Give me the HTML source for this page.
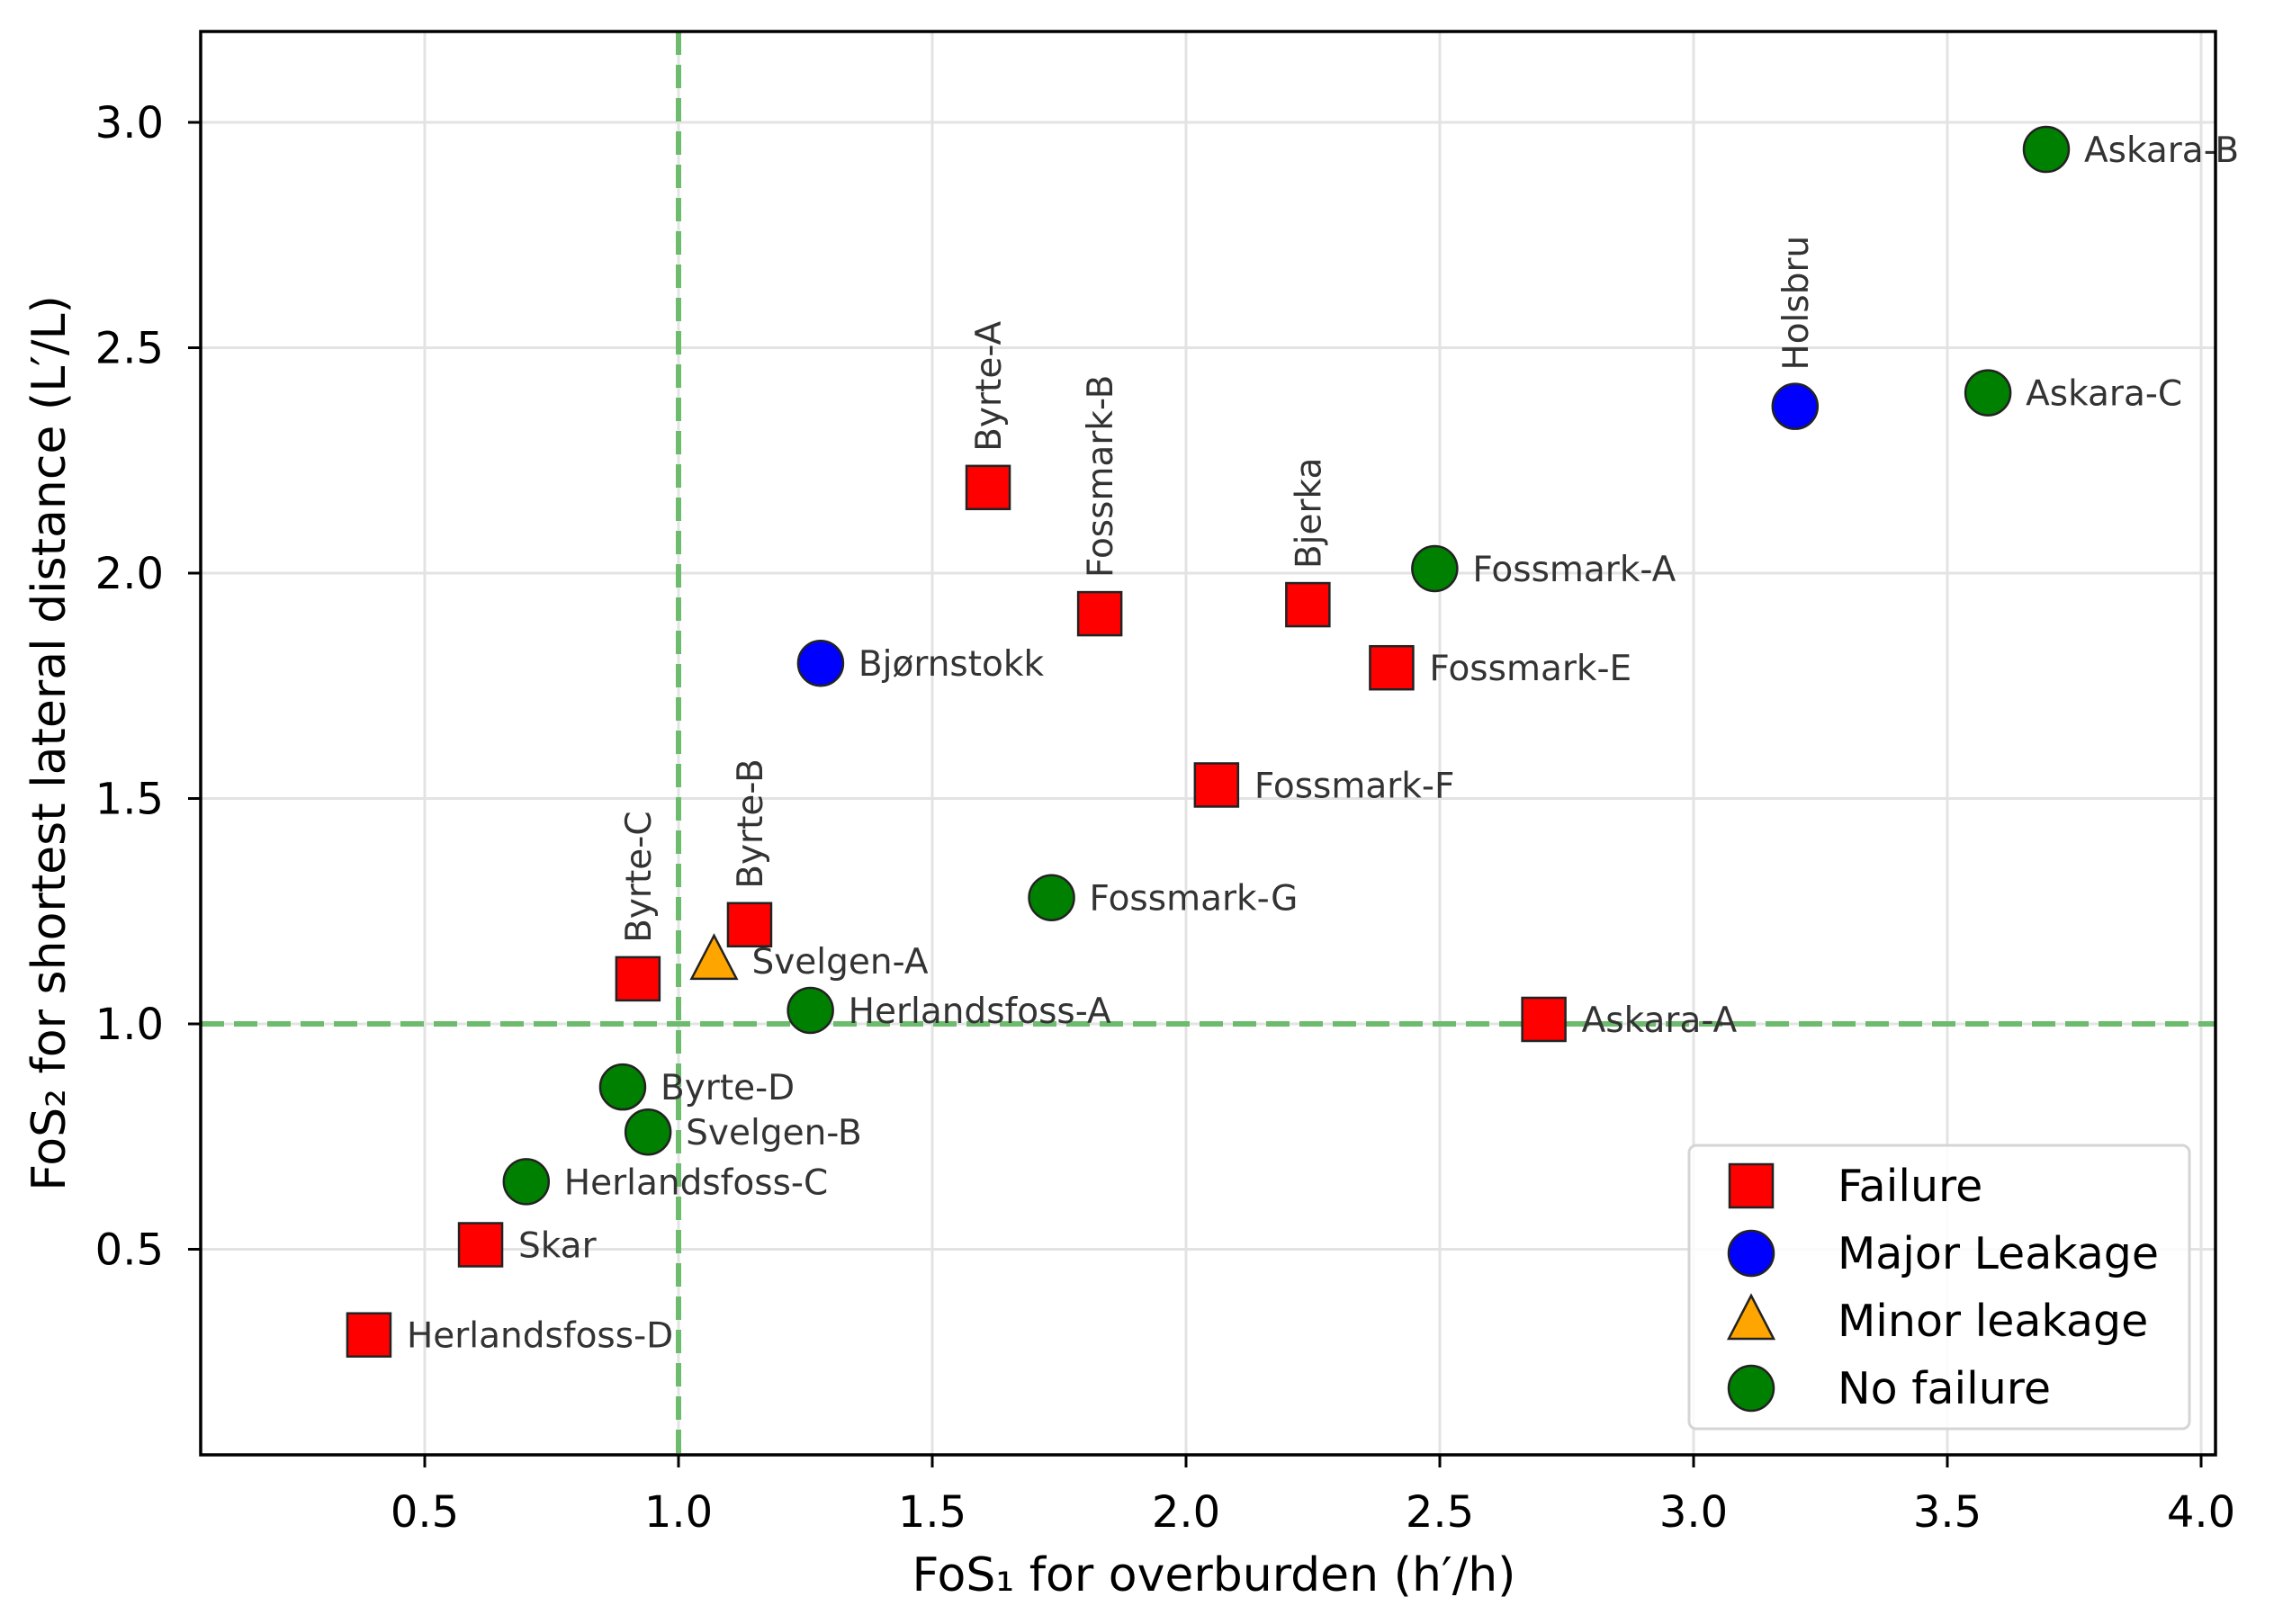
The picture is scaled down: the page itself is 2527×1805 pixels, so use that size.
<!DOCTYPE html>
<html><head><meta charset="utf-8"><style>
html,body{margin:0;padding:0;background:#fff;}
svg{display:block;font-family:"DejaVu Sans","Liberation Sans",sans-serif;}
</style></head><body>
<svg id="chart" width="2527" height="1805" viewBox="0 0 2527 1805" xmlns="http://www.w3.org/2000/svg"></svg>
<script>
const names=["Askara-B","Holsbru","Askara-C","Byrte-A","Fossmark-B","Bjerka","Fossmark-A","Bjørnstokk","Fossmark-E","Fossmark-F","Fossmark-G","Byrte-B","Byrte-C","Svelgen-A","Herlandsfoss-A","Askara-A","Byrte-D","Svelgen-B","Herlandsfoss-C","Skar","Herlandsfoss-D"];
const xVals=[3.695,3.20,3.58,1.61,1.83,2.24,2.49,1.28,2.405,2.06,1.735,1.14,0.92,1.07,1.26,2.705,0.89,0.94,0.70,0.61,0.39];
const yVals=[2.94,2.37,2.40,2.19,1.91,1.93,2.01,1.80,1.79,1.53,1.28,1.22,1.10,1.14,1.03,1.01,0.86,0.76,0.65,0.51,0.31];
const cats=["none","major","none","fail","fail","fail","none","major","fail","fail","none","fail","fail","minor","none","fail","none","none","none","fail","fail"];
const rotated=["Holsbru","Byrte-A","Fossmark-B","Bjerka","Byrte-B","Byrte-C"];
const xTicks=[0.5,1.0,1.5,2.0,2.5,3.0,3.5,4.0];
const yTicks=[0.5,1.0,1.5,2.0,2.5,3.0];
const legendLabels=["Failure","Major Leakage","Minor leakage","No failure"];
const legendCats=["fail","major","minor","none"];

const L=223,R=2462,T=35,B=1617;
function xs(v){return 190+v*564;}
function ys(v){return 136+(3-v)*501;}
const svg=document.getElementById('chart');
const NS="http://www.w3.org/2000/svg";
function mk(tag,attrs,parent){const e=document.createElementNS(NS,tag);for(const k in attrs)e.setAttribute(k,attrs[k]);(parent||svg).appendChild(e);return e;}
const col={fail:"#ff0000",major:"#0000ff",minor:"#ffa500",none:"#008000"};
function marker(cat,cx,cy,g){
  let e;
  if(cat==="fail"){e=mk('rect',{x:cx-24,y:cy-24,width:48,height:48,fill:col.fail,stroke:"#222","stroke-width":2.5},g);}
  else if(cat==="minor"){e=mk('polygon',{points:`${cx},${cy-28} ${cx+25},${cy+20} ${cx-25},${cy+20}`,fill:col.minor,stroke:"#222","stroke-width":2.5},g);}
  else{e=mk('circle',{cx:cx,cy:cy,r:25,fill:col[cat],stroke:"#222","stroke-width":2.5},g);}
  return e;
}
const grid=mk('g',{});


xTicks.forEach(t=>{mk('line',{x1:xs(t),x2:xs(t),y1:T,y2:B,stroke:"#e3e3e3","stroke-width":3},grid);});
yTicks.forEach(t=>{mk('line',{x1:L,x2:R,y1:ys(t),y2:ys(t),stroke:"#e3e3e3","stroke-width":3},grid);});
const vl=mk('line',{x1:xs(1),x2:xs(1),y1:T,y2:B,stroke:"#6dbb6d","stroke-width":6,"stroke-dasharray":"26,11"});


const hl=mk('line',{x1:L,x2:R,y1:ys(1),y2:ys(1),stroke:"#6dbb6d","stroke-width":6,"stroke-dasharray":"26,11"});


xTicks.forEach(t=>{
  mk('line',{x1:xs(t),x2:xs(t),y1:B,y2:B+14,stroke:"#000","stroke-width":3});
  const tx=mk('text',{x:xs(t),y:1697,"font-size":48,"text-anchor":"middle",fill:"#000"});
  tx.textContent=t.toFixed(1);
  
  
});
yTicks.forEach(t=>{
  mk('line',{x1:L-14,x2:L,y1:ys(t),y2:ys(t),stroke:"#000","stroke-width":3});
  const tx=mk('text',{x:182,y:ys(t)+17,"font-size":48,"text-anchor":"end",fill:"#000"});
  tx.textContent=t.toFixed(1);
  
  
});
names.forEach((n,i)=>{
  const cx=xs(xVals[i]),cy=ys(yVals[i]);
  const g=mk('g',{});
  
  
  marker(cats[i],cx,cy,g);
  let t;
  if(rotated.includes(n)){
    t=mk('text',{x:cx+14,y:cy-40,"font-size":39,fill:"#333",transform:`rotate(-90 ${cx+14} ${cy-40})`},g);
  } else {
    t=mk('text',{x:cx+42,y:cy+14,"font-size":39,fill:"#333"},g);
  }
  t.textContent=n;
});
const fr=mk('rect',{x:L,y:T,width:R-L,height:B-T,fill:"none",stroke:"#000","stroke-width":3.5});


const xt=mk('text',{x:1349,y:1768,"font-size":52,"text-anchor":"middle",fill:"#000"});
xt.textContent="FoS₁ for overburden (h′/h)";


const yt=mk('text',{x:72,y:826,"font-size":52,"text-anchor":"middle",fill:"#000",transform:"rotate(-90 72 826)"});
yt.textContent="FoS₂ for shortest lateral distance (L′/L)";


const lg=mk('g',{});


mk('rect',{x:1877,y:1273,width:556,height:315,rx:8,fill:"#fff","fill-opacity":0.85,stroke:"#d5d5d5","stroke-width":3},lg);
legendLabels.forEach((lab,i)=>{
  const cy=1318+i*75;
  const g=mk('g',{},lg);
  
  
  marker(legendCats[i],1946,cy,g);
  const t=mk('text',{x:2042,y:cy+17,"font-size":49,fill:"#000"},g);
  t.textContent=lab;
});
</script>
</body></html>
